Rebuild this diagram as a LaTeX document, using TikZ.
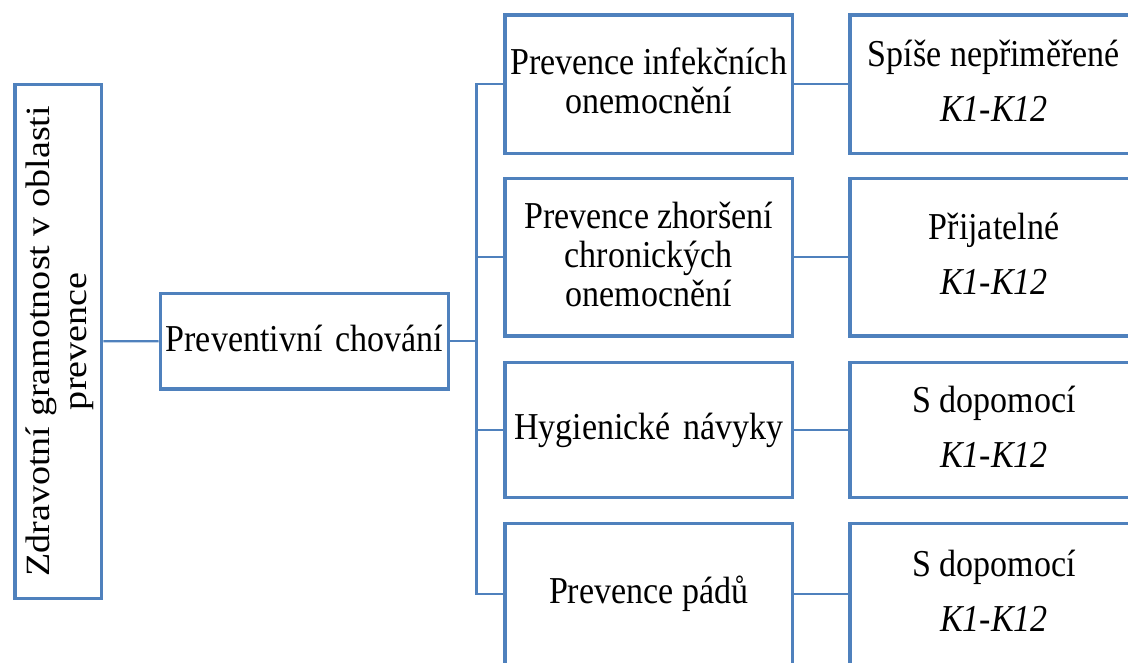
\documentclass[tikz,border=0pt]{standalone}
\usepackage{fontspec}
\setmainfont{Liberation Serif}
% horizontal labels are set slightly condensed, the side label slightly widened
\newfontfamily\boxfont{Liberation Serif}[FakeStretch=0.895]
\newfontfamily\sidefont{Liberation Serif}[FakeStretch=1.12]
\definecolor{boxblue}{HTML}{4F81BD}
% invisible line strut: height 28pt, depth 8pt
\newcommand{\lnstr}{\rule[-8pt]{0pt}{36pt}}
\tikzset{
  box/.style={draw=boxblue, line width=3.4pt, rectangle, inner sep=0pt,
    align=center, font=\boxfont\fontsize{38}{39}\selectfont},
  midbox/.style={box, minimum width=287.3pt},
  rightbox/.style={box, minimum width=288pt},
  link/.style={draw=boxblue, line width=2.3pt},
}
\begin{document}
\begin{tikzpicture}[x=1pt,y=-1pt]
\useasboundingbox (0,0) rectangle (1128,662);

% root, set vertically
\node[box, rotate=90, minimum width=514pt, minimum height=86.7pt,
  font=\sidefont\fontsize{34}{37}\selectfont] (zdrav) at (58.3,341.3)
  {\lnstr Zdravotní gramotnost v oblasti\\\lnstr prevence};

\node[box, minimum width=288pt, minimum height=95.7pt] (chov) at (304.2,341.2)
  {\lnstr Preventivní\hspace{4pt} chování};

% areas of preventive behaviour
\node[midbox, minimum height=138.3pt] (p1) at (648.7,84.2)
  {\lnstr Prevence infekčních\\\lnstr onemocnění};
\node[midbox, minimum height=157.7pt] (p2) at (648.7,257.2)
  {\lnstr Prevence zhoršení\\\lnstr chronických\\\lnstr onemocnění};
\node[midbox, minimum height=135.3pt] (p3) at (648.7,430)
  {\lnstr Hygienické\hspace{4pt} návyky};
\node[midbox, minimum height=141.4pt] (p4) at (648.7,594)
  {\lnstr Prevence pádů};

% assessments
\node[rightbox, minimum height=138.3pt] (r1) at (994,84.2)
  {\lnstr Spíše nepřiměřené\\[16pt]\lnstr\textit{K1-K12}};
\node[rightbox, minimum height=157.7pt] (r2) at (994,257.2)
  {\lnstr Přijatelné\\[16pt]\lnstr\textit{K1-K12}};
\node[rightbox, minimum height=135.3pt] (r3) at (994,430)
  {\lnstr S dopomocí\\[16pt]\lnstr\textit{K1-K12}};
\node[rightbox, minimum height=141.4pt] (r4) at (994,594)
  {\lnstr S dopomocí\\[16pt]\lnstr\textit{K1-K12}};

% connectors
\coordinate (bus) at (476.5,341.2);
\draw[link] (zdrav.south) -- (chov.west);
\draw[link] (chov.east) -- (bus);
\draw[link] (p1.west) -- (p1.west -| bus) -- (p4.west -| bus) -- (p4.west);
\draw[link] (p2.west) -- (p2.west -| bus);
\draw[link] (p3.west) -- (p3.west -| bus);
\draw[link] (p1.east) -- (r1.west);
\draw[link] (p2.east) -- (r2.west);
\draw[link] (p3.east) -- (r3.west);
\draw[link] (p4.east) -- (r4.west);
\end{tikzpicture}
\end{document}
